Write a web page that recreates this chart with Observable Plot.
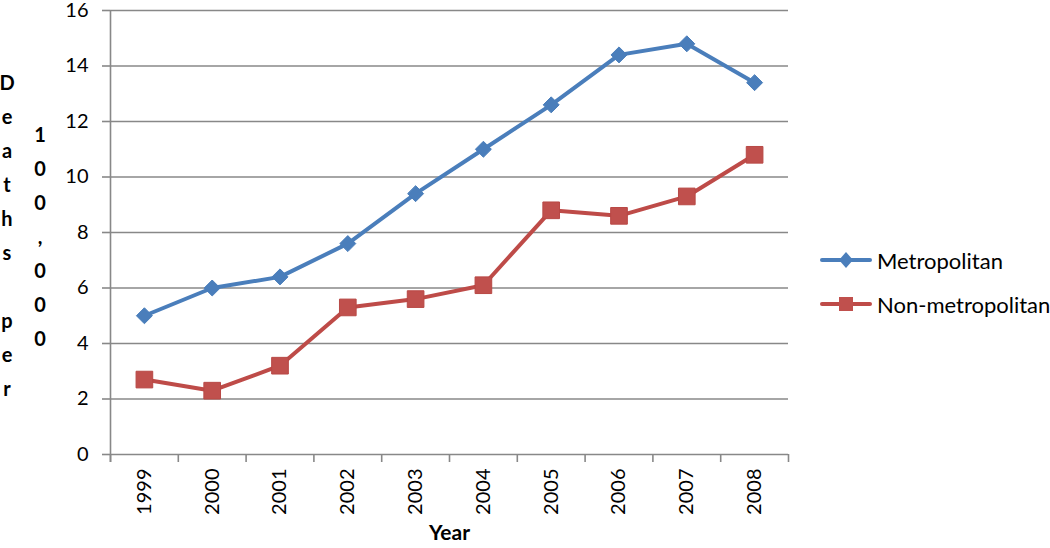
<!DOCTYPE html>
<html>
<head>
<meta charset="utf-8">
<script src="https://cdn.jsdelivr.net/npm/d3@7"></script>
<script src="https://cdn.jsdelivr.net/npm/@observablehq/plot@0.6"></script>
<style>
  html, body { margin: 0; padding: 0; background: #fff; }
  #wrap { position: relative; width: 1050px; height: 548px; font-family: Lato, "Open Sans", sans-serif; }
  .ych { position: absolute; font-weight: bold; font-size: 20px; width: 20px; text-align: center; line-height: 20px; color: #000; }
  #legend { position: absolute; left: 820px; top: 242px; font-size: 22px; color: #000; }
  .lrow { position: absolute; left: 0; height: 36px; display: flex; align-items: center; white-space: nowrap; }
  .lrow svg { margin-right: 5px; }
</style>
</head>
<body>
<div id="wrap"></div>
<script>
// ---- data ----
const years = [1999, 2000, 2001, 2002, 2003, 2004, 2005, 2006, 2007, 2008];
const metropolitan = [5.0, 6.0, 6.4, 7.6, 9.4, 11.0, 12.6, 14.4, 14.8, 13.4];
const nonMetropolitan = [2.7, 2.3, 3.2, 5.3, 5.6, 6.1, 8.8, 8.6, 9.3, 10.8];
const seriesNames = ["Metropolitan", "Non-metropolitan"];
const seriesColors = ["#4a7ebb", "#be4b48"];
const yTicks = [0, 2, 4, 6, 8, 10, 12, 14, 16];
const xTitle = "Year";
const yTitleCol1 = "Deaths per";
const yTitleCol2 = "100,000";

// ---- build ----
const metroData = years.map((y, i) => ({year: y, value: metropolitan[i]}));
const nonMetroData = years.map((y, i) => ({year: y, value: nonMetropolitan[i]}));
const bounds = [years[0] - 0.5, ...years.map(y => y + 0.5)];
const gridColor = "#888888";

const chart = Plot.plot({
  width: 1050,
  height: 548,
  marginLeft: 110,
  marginRight: 262,
  marginTop: 10,
  marginBottom: 94,
  style: {fontFamily: "Lato, 'Open Sans', sans-serif", fontSize: "20px", background: "#fff", color: "#000", overflow: "visible"},
  x: {type: "linear", domain: [bounds[0], bounds[bounds.length - 1]]},
  y: {domain: [0, 16]},
  marks: [
    Plot.ruleY(yTicks, {stroke: gridColor, strokeWidth: 1.6}),
    Plot.axisY(yTicks, {tickSize: 8, tickPadding: 14, fontSize: 20, stroke: gridColor, strokeWidth: 1.6, label: null}),
    Plot.ruleX([bounds[0]], {stroke: gridColor, strokeWidth: 1.6, insetBottom: -8}),
    Plot.axisX(bounds, {tickSize: 8, tickFormat: () => "", stroke: gridColor, strokeWidth: 1.6, label: null}),
    Plot.axisX(years, {tickSize: 0, tickRotate: -90, tickPadding: 14, fontSize: 20, tickFormat: d => String(d), label: null}),
    Plot.line(metroData, {x: "year", y: "value", stroke: seriesColors[0], strokeWidth: 4}),
    Plot.line(nonMetroData, {x: "year", y: "value", stroke: seriesColors[1], strokeWidth: 4}),
    Plot.dot(metroData, {x: "year", y: "value", symbol: "diamond2", r: 7.2, fill: seriesColors[0], stroke: seriesColors[0], strokeWidth: 1}),
    Plot.dot(nonMetroData, {x: "year", y: "value", symbol: "square", r: 9.4, fill: "#c0504d", stroke: "#b84845", strokeWidth: 1}),
    Plot.text([xTitle], {frameAnchor: "bottom", dy: 85, fontWeight: "bold", fontSize: 21, fill: "#000"})
  ]
});

const wrap = document.getElementById("wrap");
wrap.appendChild(chart);

// vertical stacked y title (two columns)
function addColumn(str, cx, y0, step) {
  [...str].forEach((ch, i) => {
    const d = document.createElement("div");
    d.className = "ych";
    d.textContent = ch;
    d.style.left = (cx - 10) + "px";
    d.style.top = (y0 + i * step - 10) + "px";
    wrap.appendChild(d);
  });
}
addColumn(yTitleCol1, 7, 82, 34);
addColumn(yTitleCol2, 40, 134, 34);

// legend
const legend = document.createElement("div");
legend.id = "legend";
seriesNames.forEach((name, i) => {
  const row = document.createElement("div");
  row.className = "lrow";
  row.style.top = (i * 44) + "px";
  const sym = i === 0
    ? `<polygon points="26,10 33,18 26,26 19,18" fill="${seriesColors[0]}"/>`
    : `<rect x="19" y="11" width="14" height="14" fill="#c0504d"/>`;
  row.innerHTML = `<svg width="52" height="36"><line x1="2" x2="50" y1="18" y2="18" stroke="${seriesColors[i]}" stroke-width="4" stroke-linecap="round"/>${sym}</svg><span>${name}</span>`;
  legend.appendChild(row);
});
wrap.appendChild(legend);
</script>
</body>
</html>
